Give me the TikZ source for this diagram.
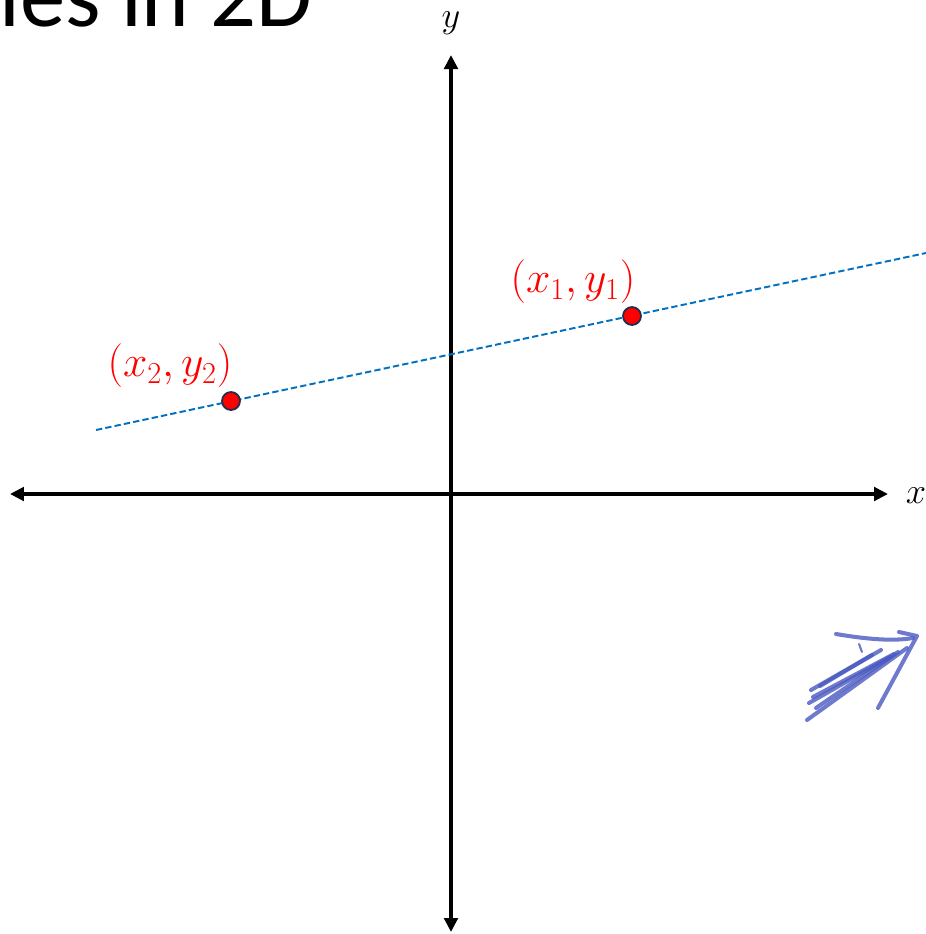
\documentclass[tikz,border=0pt]{standalone}
\usepackage{fontspec}
\newfontfamily\titlefont{Carlito}
\usetikzlibrary{arrows.meta,positioning}
\definecolor{ptred}{HTML}{FF0000}
\definecolor{ptrim}{HTML}{1F2D4F}
\definecolor{lnblue}{HTML}{0070C0}
\definecolor{pen}{HTML}{4A59C0}
\tikzset{
  axis/.style={line width=2pt,{Triangle[length=0.28cm,width=0.27cm]}-{Triangle[length=0.28cm,width=0.27cm]}},
  guide/.style={lnblue,line width=1.1pt,dash pattern=on 3.6pt off 1.8pt},
  dot/.style={circle,draw=ptrim,fill=ptred,line width=1pt,inner sep=0pt,minimum size=0.36cm},
  ptlbl/.style={text=ptred,font=\fontsize{24.5}{28}\selectfont},
  axlbl/.style={font=\fontsize{21}{24}\selectfont,inner sep=0.5pt},
  scribble/.style={pen,line width=2.3pt,line cap=round,line join=round,opacity=0.8}
}
\begin{document}
\begin{tikzpicture}[x=0.02cm,y=-0.02cm]
  \useasboundingbox (0,0) rectangle (926,934);
  % title, cut at the top
  \node[anchor=base west,inner sep=0pt,font=\titlefont\fontsize{51.6}{60}\selectfont] (ttl) at (-1,26) {les in 2D};
  % axes
  \coordinate (xl) at (10,494);
  \coordinate (xr) at (888,494);
  \coordinate (yb) at (451,932);
  \coordinate (yt) at (451,55);
  \draw[axis] (xl) -- (xr);
  \draw[axis] (yb) -- (yt);
  \node[axlbl] (xlab) at (916,496) {$x$};
  \node[axlbl] (ylab) at (451,23) {$y$};
  % line through the two points
  \coordinate (lA) at (96,430);
  \coordinate (lB) at (926,253);
  \draw[guide] (lA) -- (lB);
  \node[dot] (p1) at (632,316) {};
  \node[dot] (p2) at (231,401) {};
  \node[ptlbl] (l1) at (573,282) {$(x_1,y_1)$};
  \node[ptlbl] (l2) at (170,366) {$(x_2,y_2)$};
  % pen arrow
  \draw[scribble] (836,634) .. controls (860,638) and (890,642) .. (913,638);
  \draw[scribble] (899,632) -- (917,636) -- (878,708);
  \draw[scribble] (807,720) -- (907,648);
  \draw[scribble] (811,690) -- (881,650);
  \draw[scribble] (809,703) -- (890,657);
  \draw[scribble] (813,697) -- (894,654);
  \draw[scribble] (816,708) -- (898,652);
  \draw[scribble] (820,686) -- (872,655);
  \draw[scribble,line width=1.2pt] (859,644) -- (862,652);
\end{tikzpicture}
\end{document}
